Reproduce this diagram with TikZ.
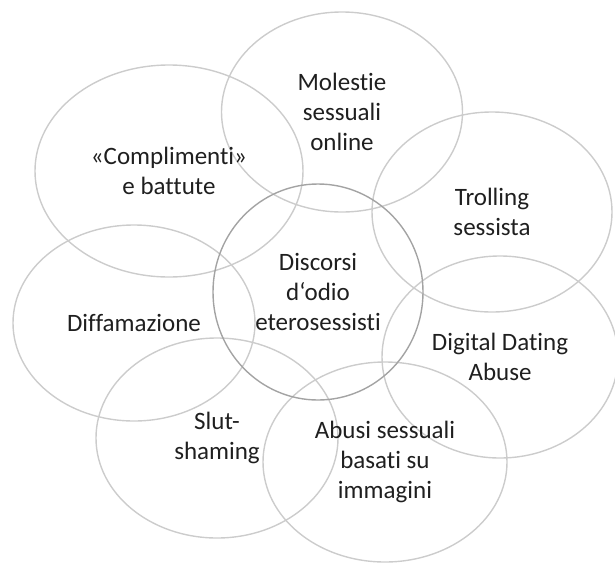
\documentclass[tikz,border=0pt]{standalone}
\usepackage{fontspec}
\setmainfont[Ligatures=NoCommon]{Carlito}
\usepackage{tikz}
\usetikzlibrary{shapes.geometric}
\definecolor{bubblegrey}{rgb}{0.80, 0.80, 0.80}
\definecolor{coregrey}{rgb}{0.64, 0.64, 0.64}
\definecolor{labelblack}{rgb}{0.12, 0.12, 0.12}

\begin{document}
\begin{tikzpicture}[
	x=1pt, y=-1pt,
	texts/.style = {text=labelblack, font=\fontsize{25}{30}\selectfont, align=center},
	bubble/.style = {texts, ellipse, draw=bubblegrey, line width=1.4pt, inner sep=0pt},
	corebubble/.style = {bubble, draw=coregrey}
]
	\useasboundingbox (0,0) rectangle (615,563);

	\node[bubble, minimum width=241pt, minimum height=200pt] (molestie) at (342,112) {Molestie\\sessuali\\online};
	\node[bubble, minimum width=268pt, minimum height=212pt] (complimenti) at (169,171) {«Complimenti»\\e battute};
	\node[bubble, minimum width=240pt, minimum height=200pt] (trolling) at (492,212) {Trolling\\sessista};
	\node[bubble, minimum width=242pt, minimum height=196pt] (diffamazione) at (134,323) {Diffamazione};
	\node[bubble, minimum width=236pt, minimum height=202pt] (digital) at (500,357) {Digital Dating\\Abuse};
	\node[bubble, minimum width=242pt, minimum height=200pt] (slut) at (217,438) {Slut-\\shaming};
	\node[bubble, minimum width=244pt, minimum height=200pt] (abusi) at (385,462) {Abusi sessuali\\basati su\\immagini};

	% cerchio centrale
	\node[corebubble, minimum width=210pt, minimum height=216pt] (discorsi) at (318,292) {Discorsi\\d‘odio\\eterosessisti};
\end{tikzpicture}
\end{document}
